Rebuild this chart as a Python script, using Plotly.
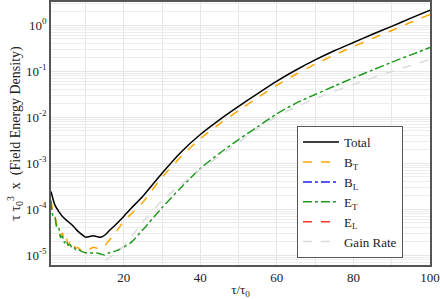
import plotly.graph_objects as go

tau = [1, 2, 3, 4, 5, 6, 7, 8, 9, 10, 11, 12, 13, 14, 15, 16, 18, 20, 22, 25,
       30, 35, 40, 45, 50, 55, 60, 65, 70, 75, 80, 85, 90, 95, 100]

total = [2.4e-4, 1.23e-4, 8.9e-5, 6.9e-5, 5.75e-5, 4.9e-5, 4.07e-5, 3.3e-5, 2.82e-5, 2.45e-5,
         2.51e-5, 2.63e-5, 2.51e-5, 2.43e-5, 2.69e-5, 3.24e-5, 4.68e-5, 6.9e-5, 1.05e-4, 1.9e-4,
         6.0e-4, 1.74e-3, 4.17e-3, 8.7e-3, 1.70e-2, 3.24e-2, 6.03e-2, 0.105, 0.174, 0.275,
         0.417, 0.631, 0.933, 1.41, 2.09]

tau_early = [1, 1.5, 2, 2.5, 3, 3.5, 4, 4.5, 5, 5.5, 6, 6.5, 7, 7.5, 8, 9, 10, 11, 12, 13,
             14, 15, 16, 18, 20, 22, 25, 30, 35, 40, 45, 50, 55, 60, 65, 70, 75, 80, 85,
             90, 95, 100]

b_t = [1.6e-4, 8.5e-5, 7.4e-5, 4.6e-5, 4.2e-5, 2.6e-5, 3.0e-5, 2.0e-5, 2.3e-5, 1.7e-5,
       1.9e-5, 1.45e-5, 1.6e-5, 1.4e-5, 1.45e-5, 1.26e-5, 1.17e-5, 1.32e-5, 1.48e-5, 1.41e-5,
       1.41e-5, 1.58e-5, 2.0e-5, 3.16e-5, 5.4e-5, 7.9e-5, 1.41e-4, 4.9e-4, 1.38e-3, 3.39e-3,
       7.08e-3, 1.38e-2, 2.63e-2, 4.9e-2, 8.5e-2, 0.141, 0.224, 0.339, 0.513, 0.759, 1.15, 1.70]

e_t = [1.5e-4, 7.2e-5, 6.8e-5, 4.0e-5, 3.9e-5, 2.4e-5, 2.6e-5, 1.85e-5, 2.05e-5, 1.6e-5,
       1.7e-5, 1.4e-5, 1.45e-5, 1.3e-5, 1.32e-5, 1.2e-5, 1.12e-5, 1.12e-5, 1.1e-5, 1.1e-5,
       1.05e-5, 1.0e-5, 1.1e-5, 1.23e-5, 1.48e-5, 1.9e-5, 3.55e-5, 1.07e-4, 2.95e-4, 7.6e-4,
       1.62e-3, 3.24e-3, 6.17e-3, 1.17e-2, 2.0e-2, 3.09e-2, 4.68e-2, 7.08e-2, 0.105, 0.155,
       0.224, 0.324]

tau_gain = [12, 13, 14, 15, 16, 18, 20, 22, 25, 30, 35, 40, 45, 50, 55, 60, 65, 70, 75, 80,
            85, 90, 95, 100]
gain = [4.0e-6, 4.9e-6, 6.0e-6, 7.2e-6, 8.5e-6, 1.1e-5, 1.6e-5, 2.5e-5, 5.25e-5, 1.51e-4, 3.4e-4,
        7.2e-4, 1.41e-3, 2.82e-3, 5.62e-3, 1.02e-2, 1.66e-2, 2.51e-2, 3.63e-2, 5.13e-2,
        7.08e-2, 9.77e-2, 0.132, 0.178]

tau_long = [1, 100]
b_l = [1e-8, 1e-8]
e_l = [1e-8, 1e-8]

x_ticks = [20, 40, 60, 80, 100]
x_minor = [10, 30, 50, 70, 90]
y_ticks = [1e-5, 1e-4, 1e-3, 1e-2, 1e-1, 1e0]
y_ticktext = ["10<sup>-5</sup>", "10<sup>-4</sup>", "10<sup>-3</sup>", "10<sup>-2</sup>",
              "10<sup>-1</sup>", "10<sup>0</sup>"]
y_minor = [m * 10.0 ** e for e in range(-6, 1) for m in range(2, 10)]

font = "Liberation Serif"
SM = 0.6
fig = go.Figure()
fig.add_trace(go.Scatter(x=tau, y=total, mode="lines", name="Total",
                         line=dict(color="black", width=1.5, shape="spline", smoothing=SM)))
fig.add_trace(go.Scatter(x=tau_early, y=b_t, mode="lines", name="B<sub>T</sub>",
                         line=dict(color="#FFA500", width=1.5, dash="dash", shape="spline", smoothing=SM)))
fig.add_trace(go.Scatter(x=tau_long, y=b_l, mode="lines", name="B<sub>L</sub>",
                         line=dict(color="#1f1fff", width=1.5, dash="dashdot")))
fig.add_trace(go.Scatter(x=tau_early, y=e_t, mode="lines", name="E<sub>T</sub>",
                         line=dict(color="#1f9a1f", width=1.5, dash="dashdot", shape="spline", smoothing=SM)))
fig.add_trace(go.Scatter(x=tau_long, y=e_l, mode="lines", name="E<sub>L</sub>",
                         line=dict(color="#ff3030", width=1.5, dash="dash")))
fig.add_trace(go.Scatter(x=tau_gain, y=gain, mode="lines", name="Gain Rate",
                         line=dict(color="#dcdcdc", width=1.5, dash="dash", shape="spline", smoothing=SM)))

fig.update_layout(
    width=440, height=299,
    margin=dict(l=51, r=10, t=2, b=34),
    paper_bgcolor="white", plot_bgcolor="white",
    font=dict(family=font, size=13, color="#222"),
    showlegend=True,
    legend=dict(x=0.649, y=0.528, xanchor="left", yanchor="top",
                bgcolor="white", bordercolor="#555", borderwidth=1,
                font=dict(family=font, size=13, color="#222"),
                tracegroupgap=0, itemwidth=36, entrywidth=118),
)
fig.update_xaxes(
    range=[1, 100], tickmode="array", tickvals=x_ticks, showgrid=True, gridcolor="#e6e6e6",
    minor=dict(tickmode="array", tickvals=x_minor, showgrid=True, gridcolor="#e6e6e6"),
    showline=True, linecolor="#555", linewidth=1.5, mirror=True, ticks="",
    zeroline=False, automargin=False,
    title=dict(text="τ/τ<sub>0</sub>", standoff=2, font=dict(family=font, size=13)),
    tickfont=dict(family=font, size=13),
)
fig.update_yaxes(
    type="log", range=[-5.217, 0.5], tickmode="array", tickvals=y_ticks, ticktext=y_ticktext,
    showgrid=True, gridcolor="#e6e6e6",
    minor=dict(tickmode="array", tickvals=y_minor, showgrid=True, gridcolor="#ececec"),
    showline=True, linecolor="#555", linewidth=1.5, mirror=True, ticks="",
    automargin=False,
    title=dict(text="τ τ<sub>0</sub><sup>3</sup>  x  (Field Energy Density)", standoff=2,
               font=dict(family=font, size=14)),
    tickfont=dict(family=font, size=13),
)
fig.write_html("out.html", config={"displayModeBar": False},
               post_script="document.body.style.margin='0';document.body.style.overflow='hidden';")
